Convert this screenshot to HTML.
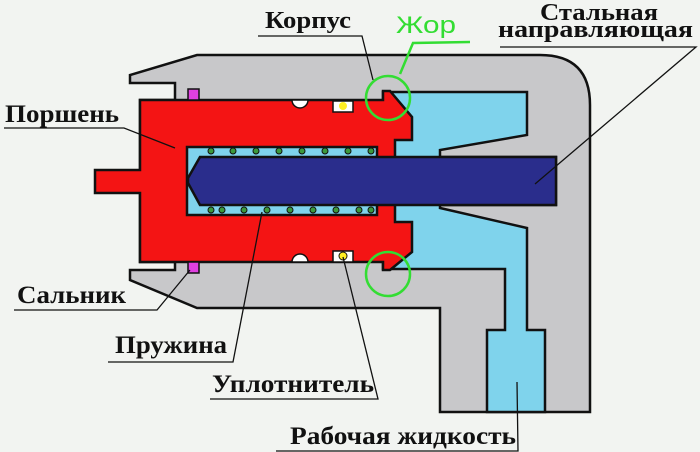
<!DOCTYPE html>
<html><head><meta charset="utf-8"><style>
html,body{margin:0;padding:0;background:#f2f4f1;}
svg{display:block}
text.l{font-family:"Liberation Serif",serif;font-weight:bold;fill:#111;}
</style></head><body>
<svg width="700" height="452" viewBox="0 0 700 452" xmlns="http://www.w3.org/2000/svg">
<rect width="700" height="452" fill="#f2f4f1"/>
<path d="M197,55 L540,55 Q590,55 590,105 L590,412 L440,412 L440,308 L197,308 L130,280 L130,270 L175,270 L175,262 L140,262 L140,100 L175,100 L175,95 L175,83 L130,83 L130,75 Z" fill="#c8c8ca" stroke="#111" stroke-width="2.5" stroke-linejoin="miter"/>
<path d="M383,92 L527,92 L527,135 L440,150 L440,157 L556,157 L556,205 L440,205 L440,208 L527,228 L527,330 L545,330 L545,412 L487,412 L487,330 L505,330 L505,269 L383,269 L383,262 L383,100 Z" fill="#7fd3ec" stroke="#111" stroke-width="2.5"/>
<path d="M140,100 L383,100 L383,91 L390,91 L412,117 L412,140 L395,140 L395,222 L412,222 L412,252 L390,270 L383,270 L383,262 L140,262 L140,193 L95,193 L95,170 L140,170 Z" fill="#f41414" stroke="#111" stroke-width="2.5"/>
<rect x="187" y="147" width="190" height="68" fill="#7fd3ec" stroke="#111" stroke-width="2.5"/>
<path d="M200,157 L556,157 L556,205 L200,205 L188,183 L188,178 Z" fill="#2a2d8c" stroke="#111" stroke-width="2.5"/>
<g fill="#3c9a3c" stroke="#111" stroke-width="1">
<circle cx="211" cy="151" r="3"/><circle cx="233" cy="151" r="3"/><circle cx="256" cy="151" r="3"/><circle cx="279" cy="151" r="3"/><circle cx="302" cy="151" r="3"/><circle cx="325" cy="151" r="3"/><circle cx="348" cy="151" r="3"/><circle cx="371" cy="151" r="3"/>
<circle cx="211" cy="210" r="3"/><circle cx="222" cy="210" r="3"/><circle cx="244" cy="210" r="3"/><circle cx="267" cy="210" r="3"/><circle cx="290" cy="210" r="3"/><circle cx="313" cy="210" r="3"/><circle cx="336" cy="210" r="3"/><circle cx="359" cy="210" r="3"/><circle cx="371" cy="210" r="3"/>
</g>
<path d="M292,100 A8,8 0 0 0 308,100 Z" fill="#fff" stroke="#111" stroke-width="1.5"/>
<path d="M292,262 A8,8 0 0 1 308,262 Z" fill="#fff" stroke="#111" stroke-width="1.5"/>
<rect x="333" y="101" width="20" height="11" fill="#fff" stroke="#111" stroke-width="1.5"/>
<circle cx="343" cy="106" r="4" fill="#ffee22"/>
<rect x="333" y="251" width="20" height="11" fill="#fff" stroke="#111" stroke-width="1.5"/>
<circle cx="343" cy="256" r="4" fill="#ffee22" stroke="#111" stroke-width="1"/>
<rect x="188" y="89" width="11" height="11" fill="#e040e0" stroke="#111" stroke-width="1.5"/>
<rect x="188" y="262" width="11" height="11" fill="#e040e0" stroke="#111" stroke-width="1.5"/>
<g fill="none" stroke="#33dd33" stroke-width="2.5">
<circle cx="388" cy="98" r="22"/>
<circle cx="388" cy="274" r="22"/>
<polyline points="400,74 413,43 470,42"/>
</g>
<text x="396" y="33" font-family="Liberation Sans,sans-serif" font-size="24" fill="#33dd33" textLength="60" lengthAdjust="spacingAndGlyphs">Жор</text>
<g fill="none" stroke="#111" stroke-width="1.3">
<polyline points="258,36 362,36 373,80"/>
<polyline points="500,47 696,47 535,184"/>
<polyline points="4,128 124,128 175,148"/>
<polyline points="14,310 157,310 190,270"/>
<polyline points="108,362 233,362 262,212"/>
<polyline points="210,399 378,399 343,257"/>
<polyline points="276,451 518,451 517,382"/>
</g>
<text class="l" x="265" y="28" font-size="24" textLength="86" lengthAdjust="spacingAndGlyphs">Корпус</text>
<text class="l" x="540" y="20" font-size="24" textLength="118" lengthAdjust="spacingAndGlyphs">Стальная</text>
<text class="l" x="498" y="37" font-size="24" textLength="195" lengthAdjust="spacingAndGlyphs">направляющая</text>
<text class="l" x="5" y="122" font-size="25" textLength="114" lengthAdjust="spacingAndGlyphs">Поршень</text>
<text class="l" x="17" y="303" font-size="25" textLength="109" lengthAdjust="spacingAndGlyphs">Сальник</text>
<text class="l" x="115" y="353" font-size="25" textLength="112" lengthAdjust="spacingAndGlyphs">Пружина</text>
<text class="l" x="212" y="392" font-size="25" textLength="162" lengthAdjust="spacingAndGlyphs">Уплотнитель</text>
<text class="l" x="290" y="444" font-size="25" textLength="226" lengthAdjust="spacingAndGlyphs">Рабочая жидкость</text>
</svg>
</body></html>
